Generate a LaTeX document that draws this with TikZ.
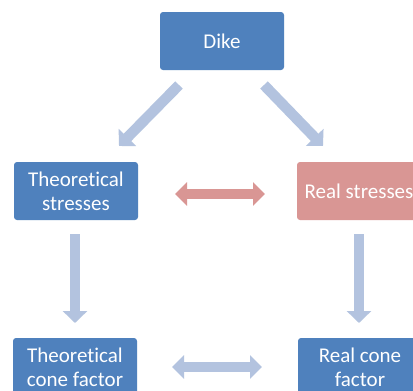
\documentclass[tikz,border=0pt]{standalone}
\usepackage{fontspec}
\setmainfont[Ligatures=NoCommon]{Carlito}
\usetikzlibrary{arrows.meta}
\definecolor{boxblue}{HTML}{4F81BD}
\definecolor{boxred}{HTML}{D99694}
\definecolor{arrblue}{HTML}{B3C3DF}
\begin{document}
\begin{tikzpicture}[x=1pt,y=-1pt,
  box/.style={rectangle,rounded corners=3pt,minimum width=124pt,minimum height=58pt,
    inner sep=2pt,align=center,text=white,font=\fontsize{21}{24}\selectfont},
  bluebox/.style={box,fill=boxblue},
  redbox/.style={box,fill=boxred},
  blockarrow/.style={line width=10.5pt,-{Triangle[width=24pt,length=12pt]}},
  dblarrow/.style={line width=10.5pt,{Triangle[width=23pt,length=12pt]}-{Triangle[width=23pt,length=12pt]}}]
\path[use as bounding box] (0,0) rectangle (413,391);
\clip (0,0) rectangle (413,391);
\fill[white] (0,0) rectangle (413,391);
\node[bluebox] (dike) at (222,41) {Dike};
\node[bluebox] (ts) at (76,191) {Theoretical\\stresses};
\node[redbox] (rs) at (359,191) {Real stresses};
\node[bluebox] (tc) at (75,367) {Theoretical\\cone factor};
\node[bluebox] (rc) at (360,367) {Real cone\\factor};
\coordinate (d1s) at (179,85);
\coordinate (d1e) at (119,146);
\coordinate (d2s) at (264,85);
\coordinate (d2e) at (323,146);
\coordinate (v1s) at (75,234);
\coordinate (v1e) at (75,323);
\coordinate (v2s) at (359,234);
\coordinate (v2e) at (359,323);
\coordinate (h1s) at (175,194);
\coordinate (h1e) at (265,194);
\coordinate (h2s) at (172,367);
\coordinate (h2e) at (262,367);
\draw[blockarrow,arrblue] (d1s) -- (d1e);
\draw[blockarrow,arrblue] (d2s) -- (d2e);
\draw[blockarrow,arrblue] (v1s) -- (v1e);
\draw[blockarrow,arrblue] (v2s) -- (v2e);
\draw[dblarrow,boxred] (h1s) -- (h1e);
\draw[dblarrow,arrblue] (h2s) -- (h2e);
\end{tikzpicture}
\end{document}
